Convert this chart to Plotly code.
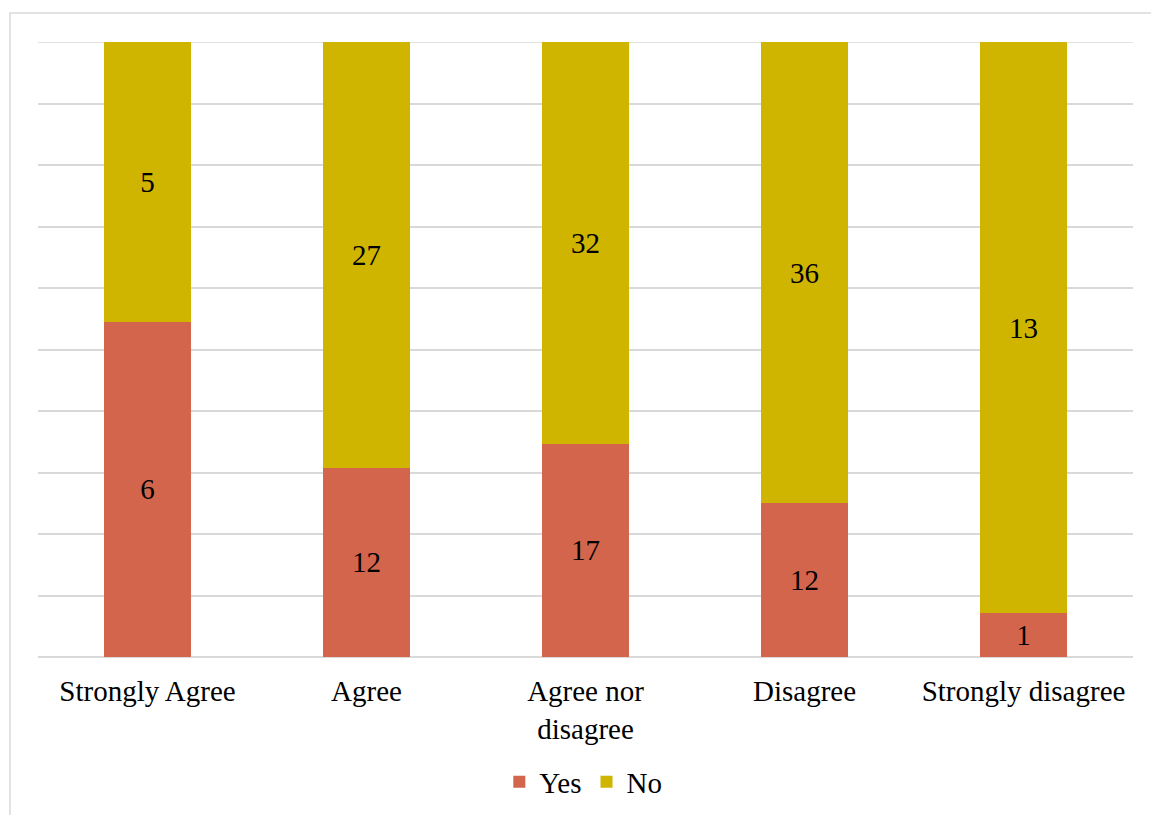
import plotly.graph_objects as go

# Survey responses by agreement level, split into Yes / No counts
categories = ["Strongly Agree", "Agree", "Agree nor<br>disagree", "Disagree", "Strongly disagree"]
yes_counts = [6, 12, 17, 12, 1]
no_counts = [5, 27, 32, 36, 13]

YES_COLOR = "#D3654C"
NO_COLOR = "#CFB500"
GRID_COLOR = "#D9D9D9"
FONT = "Liberation Serif"
FSIZE = 29

fig = go.Figure()
fig.add_trace(go.Bar(
    name="Yes", x=categories, y=yes_counts, marker_color=YES_COLOR,
    marker_line_width=0, text=yes_counts, texttemplate="%{text}",
    textposition="inside", insidetextanchor="middle",
    textfont=dict(family=FONT, size=FSIZE, color="black"), width=0.4,
))
fig.add_trace(go.Bar(
    name="No", x=categories, y=no_counts, marker_color=NO_COLOR,
    marker_line_width=0, text=no_counts, texttemplate="%{text}",
    textposition="inside", insidetextanchor="middle",
    textfont=dict(family=FONT, size=FSIZE, color="black"), width=0.4,
))

W, H = 1151, 815
ml, mr, mt, mb = 38, 18, 42, 158
pw, ph = W - ml - mr, H - mt - mb

fig.update_layout(
    width=W, height=H,
    margin=dict(l=ml, r=mr, t=mt, b=mb, autoexpand=False),
    barmode="stack", barnorm="percent",
    plot_bgcolor="white", paper_bgcolor="white",
    font=dict(family=FONT, size=FSIZE, color="black"),
    showlegend=True,
    legend=dict(orientation="h", x=0.498, xanchor="center", y=-0.203, yanchor="middle",
                font=dict(family=FONT, size=FSIZE, color="black"), itemwidth=30,
                traceorder="normal"),
    xaxis=dict(showgrid=False, showline=False, zeroline=False, ticks="",
               tickfont=dict(family=FONT, size=FSIZE, color="black"),
               ticklabelstandoff=14, automargin=False),
    yaxis=dict(range=[0, 100], dtick=10, showticklabels=False, showgrid=True,
               gridcolor=GRID_COLOR, gridwidth=1.5, zeroline=True,
               zerolinecolor=GRID_COLOR, zerolinewidth=1.5, showline=False,
               automargin=False),
    shapes=[
        # outer chart frame
        dict(type="rect", xref="paper", yref="paper",
             x0=(10 - ml) / pw, x1=(W + 10 - ml) / pw,
             y0=-(H + 10 - mt - ph) / ph, y1=1 + (mt - 13) / ph,
             line=dict(color=GRID_COLOR, width=1.5), layer="below"),
        # top gridline at 100%
        dict(type="line", xref="paper", yref="y", x0=0, x1=1, y0=100, y1=100,
             line=dict(color=GRID_COLOR, width=1.5), layer="below"),
    ],
)

fig.write_html("out.html")
